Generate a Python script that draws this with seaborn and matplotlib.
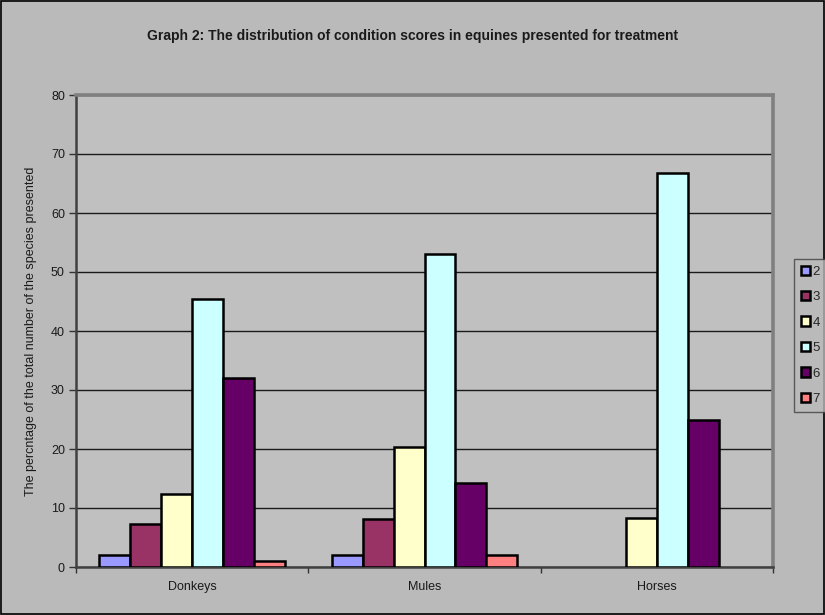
import numpy as np
import pandas as pd
import matplotlib
matplotlib.use("Agg")
import matplotlib.pyplot as plt
from matplotlib.patches import Rectangle
from matplotlib.ticker import FixedLocator
import seaborn as sns

# Condition-score distribution (% of each species presented)
species = ["Donkeys", "Mules", "Horses"]
scores = ["2", "3", "4", "5", "6", "7"]
donkeys = [2.0, 7.3, 12.4, 45.5, 32.1, 1.0]
mules = [2.0, 8.2, 20.4, 53.1, 14.3, 2.0]
horses = [np.nan, np.nan, 8.3, 66.7, 25.0, np.nan]
y_ticks = [0, 10, 20, 30, 40, 50, 60, 70, 80]

score_colors = ["#9999FF", "#993366", "#FFFFCC", "#CCFFFF", "#660066", "#FF8080"]

rows = []
for sp, vals in zip(species, [donkeys, mules, horses]):
    for sc, v in zip(scores, vals):
        rows.append({"species": sp, "score": sc, "pct": v})
df = pd.DataFrame(rows).dropna()

sns.set_theme(style="white")
plt.rcParams["font.family"] = ["Liberation Sans", "DejaVu Sans"]

fig = plt.figure(figsize=(8.25, 6.15), dpi=100)
fig.patch.set_facecolor("#BABABA")
ax = fig.add_axes([76 / 825, 1 - 567 / 615, 697 / 825, 472 / 615])
ax.set_facecolor("#C0C0C0")

sns.barplot(data=df, x="species", y="pct", hue="score", order=species,
            hue_order=scores, palette=score_colors, width=0.8,
            edgecolor="black", linewidth=1.8, saturation=1, errorbar=None,
            ax=ax, zorder=3)

ax.set_ylim(0, 80)
ax.set_xlim(-0.5, 2.5)
ax.set_yticks(y_ticks)
ax.yaxis.grid(True, color="#1a1a1a", linewidth=1.0, zorder=0)
ax.set_axisbelow(True)
ax.tick_params(axis="y", direction="out", length=5, width=1, color="#333333",
               labelsize=9, pad=3, left=True, labelcolor="#1a1a1a")
ax.tick_params(axis="x", which="major", length=0, labelsize=9, pad=10,
               labelcolor="#1a1a1a")
ax.xaxis.set_minor_locator(FixedLocator([-0.5, 0.5, 1.5, 2.5]))
ax.tick_params(axis="x", which="minor", direction="out", length=4, width=1,
               color="#333333", bottom=True)

for side in ("left", "bottom"):
    ax.spines[side].set_color("#404040")
    ax.spines[side].set_linewidth(1.8)
for side in ("top", "right"):
    ax.spines[side].set_visible(True)
    ax.spines[side].set_color("#808080")
    ax.spines[side].set_linewidth(2.6)

ax.set_xlabel("")
ax.set_ylabel("The percntage of the total number of the species presented",
              fontsize=9, color="#1a1a1a", labelpad=10)

fig.text(0.5, 1 - 36 / 615, "Graph 2: The distribution of condition scores in equines presented for treatment",
         ha="center", va="center", fontsize=10, fontweight="bold", color="#1a1a1a")

handles, labels = ax.get_legend_handles_labels()
ax.legend_.remove()
leg = fig.legend(handles, labels, loc="upper left",
                 bbox_to_anchor=(794 / 825, 1 - 259 / 615),
                 bbox_transform=fig.transFigure, frameon=True, fontsize=9.5,
                 handlelength=0.7, handleheight=0.7, handletextpad=0.2,
                 labelspacing=1.0, borderpad=0.5, borderaxespad=0,
                 fancybox=False, facecolor="#BABABA", edgecolor="#404040")
leg.get_frame().set_linewidth(1.0)

fig.patches.append(Rectangle((0.0015, 0.002), 0.997, 0.996, transform=fig.transFigure,
                             fill=False, edgecolor="black", linewidth=1.2))

fig.savefig("out.png", dpi=100, facecolor=fig.get_facecolor())
